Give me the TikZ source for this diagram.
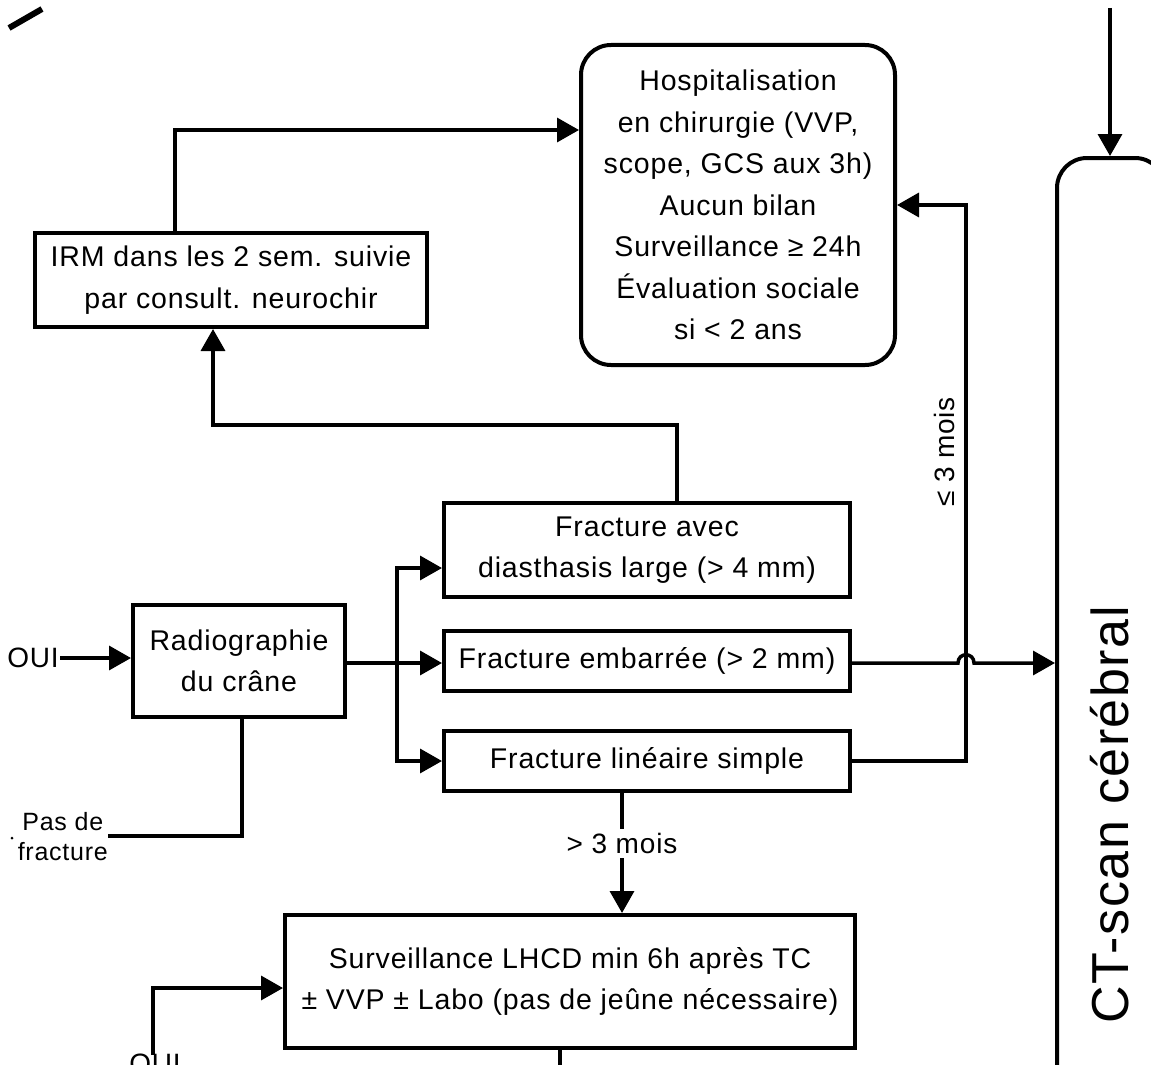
\documentclass[tikz,border=0pt]{standalone}
\usepackage{fontspec}
\setmainfont{Liberation Sans}[LetterSpace=3]
\usetikzlibrary{arrows.meta}
\tikzset{
  boxx/.style={draw, line width=4pt, rectangle, inner sep=0pt, align=center, font=\fontsize{28.5}{41.5}\selectfont},
  rboxx/.style={boxx, rounded corners=30pt},
  conn/.style={line width=3.5pt},
  arr/.style={conn, -{Triangle[length=22pt,width=24pt]}},
  lbl/.style={inner sep=1pt, align=center, font=\fontsize{28}{30}\selectfont},
}
\begin{document}
\begin{tikzpicture}[x=1pt,y=-1pt]
\useasboundingbox (0,0) rectangle (1151,1065);
\clip (0,0) rectangle (1151,1065);
% boxes
\node[rboxx, minimum width=314pt, minimum height=320pt] (hosp) at (738,205)
  {Hospitalisation\\en chirurgie (VVP,\\scope, GCS aux 3h)\\Aucun bilan\\Surveillance ≥ 24h\\Évaluation sociale\\si < 2 ans};
\node[boxx, minimum width=392pt, minimum height=94pt] (irm) at (231,280)
  {IRM dans les 2 sem. suivie\\par consult. neurochir};
\node[boxx, minimum width=406pt, minimum height=94pt] (fav) at (647,550)
  {Fracture avec\\diasthasis large (> 4 mm)};
\node[boxx, minimum width=406pt, minimum height=60pt] (femb) at (647,661)
  {Fracture embarrée (> 2 mm)};
\node[boxx, minimum width=406pt, minimum height=60pt] (flin) at (647,761)
  {Fracture linéaire simple};
\node[boxx, minimum width=212pt, minimum height=112pt] (radio) at (239,661)
  {Radiographie\\du crâne};
\node[boxx, minimum width=570pt, minimum height=133pt] (surv) at (570,981.5)
  {Surveillance LHCD min 6h après TC\\± VVP ± Labo (pas de jeûne nécessaire)};
\node[rboxx, minimum width=108pt, minimum height=1042pt] (ct) at (1111,679) {};
\node[lbl, rotate=90, font=\fontsize{52}{56}\selectfont] (cttext) at (1110,815) {CT-scan cérébral};
% labels
\node[lbl, anchor=east] (oui1) at (60,658) {OUI};
\node[lbl, anchor=east, font=\fontsize{25}{30}\selectfont, inner sep=0pt] (pasfr) at (108,837) {Pas de\\fracture};
\node[lbl, anchor=north] (oui2) at (155,1053) {OUI};
\node[lbl, rotate=90] (le3) at (944,452) {≤ 3 mois};
\node[circle, fill, inner sep=0pt, minimum size=3pt] (dot) at (12,838) {};
% connectors
\coordinate (tl1) at (9,28);
\coordinate (tl2) at (42,9);
\draw[line width=6pt] (tl1) -- (tl2);
\draw[arr] (175,0 |- irm.north) -- (175,130) -- (hosp.west |- 0,130);
\draw[arr] (677,0 |- fav.north) -- (677,425) -- (213,425) -- (213,0 |- irm.south);
\draw[arr] (oui1.east) -- (radio.west |- oui1.east);
\coordinate (jn) at (397,663);
\draw[arr] (radio.east |- jn) -- (femb.west |- jn);
\draw[arr] (jn) -- (397,568) -- (fav.west |- 0,568);
\draw[arr] (jn) -- (397,761) -- (flin.west);
\draw[conn] (242,0 |- radio.south) -- (242,836) -- (pasfr.east |- 0,836);
\draw[arr] (femb.east |- jn) -- (958,663) .. controls (958,652) and (974,652) .. (974,663) -- (ct.west |- jn);
\draw[arr] (flin.east) -- (966,761) -- (966,205) -- (hosp.east);
\draw[arr] (622,0 |- flin.south) -- node[lbl, pos=0.42, fill=white, inner sep=4pt] (gt3) {> 3 mois} (622,0 |- surv.north);
\draw[arr] (153,1055) -- (153,988) -- (surv.west |- 0,988);
\draw[conn] (560,0 |- surv.south) -- (560,1080);
\coordinate (topin) at (1110,8);
\draw[arr] (topin) -- (ct.north -| topin);
\end{tikzpicture}
\end{document}
